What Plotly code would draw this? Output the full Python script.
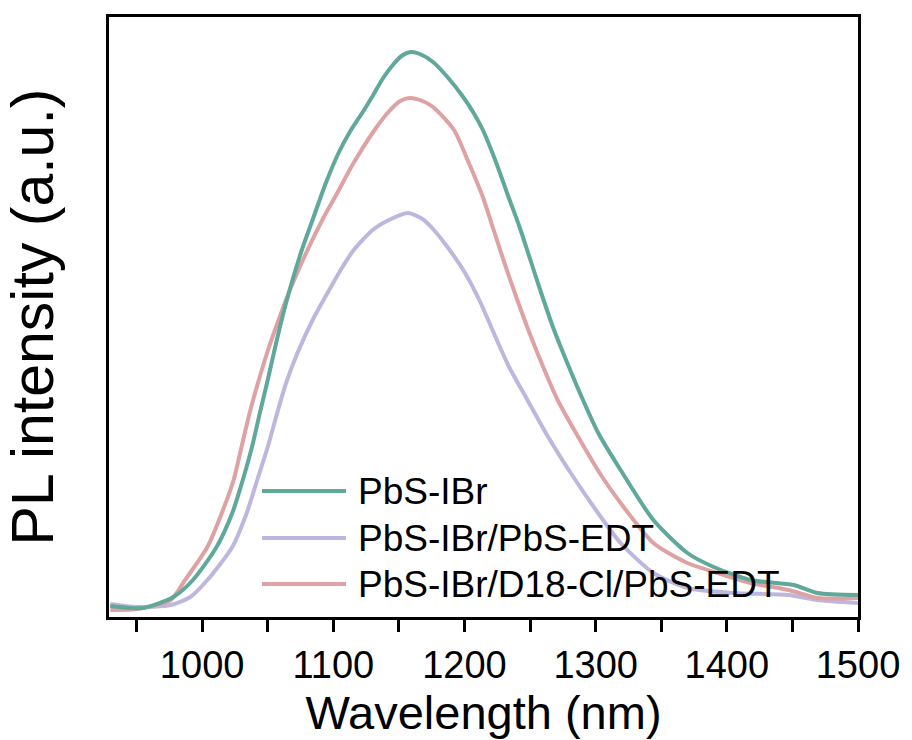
import plotly.graph_objects as go

# PbS-IBr
wl_ibr = [930, 955, 978, 993, 1011, 1023, 1031, 1038, 1044, 1050, 1055, 1061, 1068, 1076, 1085,
          1094, 1104, 1113, 1122, 1130, 1138, 1146, 1152, 1159, 1166, 1176, 1187, 1199, 1207,
          1214, 1224, 1233, 1242, 1250, 1259, 1268, 1279, 1290, 1302, 1319, 1344, 1370, 1390,
          1418, 1451, 1469, 1500]
pl_ibr = [11, 9, 20, 37, 70, 104, 137, 170, 204, 237, 266, 299, 333, 367, 400,
          433, 464, 486, 504, 521, 539, 553, 561, 565, 563, 555, 540, 520, 504,
          487, 455, 422, 390, 358, 322, 288, 252, 218, 184, 147, 97, 64, 50,
          37, 32, 24, 22]

# PbS-IBr/PbS-EDT
wl_edt = [930, 950, 976, 991, 1004, 1023, 1034, 1042, 1050, 1057, 1064, 1073, 1085, 1099, 1107,
          1115, 1130, 1144, 1157, 1168, 1176, 1187, 1200, 1212, 1222, 1234, 1248, 1262, 1281,
          1304, 1319, 1344, 1370, 1405, 1447, 1469, 1500]
pl_edt = [13, 10, 12, 20, 37, 70, 104, 137, 170, 203, 234, 265, 299, 332, 350,
          366, 387, 398, 404, 398, 388, 370, 345, 315, 285, 250, 217, 184, 144,
          100, 74, 44, 29, 24, 22, 17, 14]

# PbS-IBr/D18-Cl/PbS-EDT
wl_d18 = [930, 950, 976, 987, 1004, 1015, 1024, 1030, 1036, 1043, 1050, 1058, 1066, 1080, 1092,
          1103, 1115, 1132, 1142, 1151, 1158, 1168, 1176, 1192, 1203, 1214, 1222, 1231, 1240,
          1249, 1260, 1271, 1285, 1304, 1319, 1344, 1370, 1393, 1418, 1447, 1469, 1500]
pl_d18 = [7, 8, 17, 37, 70, 104, 137, 170, 203, 236, 266, 296, 324, 366, 398,
          424, 453, 488, 505, 516, 519, 516, 510, 487, 455, 420, 388, 352, 318,
          286, 250, 217, 184, 142, 114, 74, 54, 44, 34, 27, 19, 19]

names = ["PbS-IBr", "PbS-IBr/PbS-EDT", "PbS-IBr/D18-Cl/PbS-EDT"]
colors = ["#5fa89a", "#bdb7e0", "#dea2a3"]
series = [(wl_ibr, pl_ibr), (wl_edt, pl_edt), (wl_d18, pl_d18)]

x_ticks = [1000, 1100, 1200, 1300, 1400, 1500]

FONT = "Liberation Sans, Arial, sans-serif"

fig = go.Figure()
# draw order: purple, pink, teal (teal on top)
for i in [1, 2, 0]:
    x, y = series[i]
    fig.add_trace(go.Scatter(x=x, y=y, mode="lines", name=names[i],
                             line=dict(color=colors[i], width=4, shape="spline", smoothing=0.7),
                             showlegend=False))

# manual legend (long line samples)
L, R, T, B = 109, 858, 17, 617
def px(xp):
    return (xp - L) / (R - L)
def py(yp):
    return (B - yp) / (B - T)

rows = [491, 538, 584]
for name, col, yr in zip(names, colors, rows):
    fig.add_shape(type="line", xref="paper", yref="paper",
                  x0=px(262), x1=px(346), y0=py(yr), y1=py(yr),
                  line=dict(color=col, width=4))
    fig.add_annotation(xref="paper", yref="paper", x=px(356), y=py(yr),
                       text=name, showarrow=False, xanchor="left", yanchor="middle",
                       font=dict(family=FONT, size=37, color="black"))

fig.update_layout(
    width=912, height=740,
    margin=dict(l=L, r=912 - R, t=T, b=740 - B),
    paper_bgcolor="white", plot_bgcolor="white",
    font=dict(family=FONT, color="black"),
)
fig.update_xaxes(range=[929, 1500], tickvals=x_ticks, ticktext=[str(v) for v in x_ticks],
                 ticks="outside", ticklen=12, tickwidth=2.5, tickcolor="black",
                 minor=dict(dtick=50, tick0=950, ticks="outside", ticklen=12, tickwidth=2.5, tickcolor="black"),
                 showline=True, linecolor="black", linewidth=3, mirror=True,
                 showgrid=False, zeroline=False,
                 tickfont=dict(family=FONT, size=38),
                 title=dict(text="Wavelength (nm)", font=dict(family=FONT, size=47), standoff=8))
fig.update_yaxes(range=[0, 600], showticklabels=False, ticks="",
                 showline=True, linecolor="black", linewidth=3, mirror=True,
                 showgrid=False, zeroline=False,
                 title=dict(text="PL intensity (a.u.)", font=dict(family=FONT, size=59), standoff=36))

fig.write_html("out.html")
